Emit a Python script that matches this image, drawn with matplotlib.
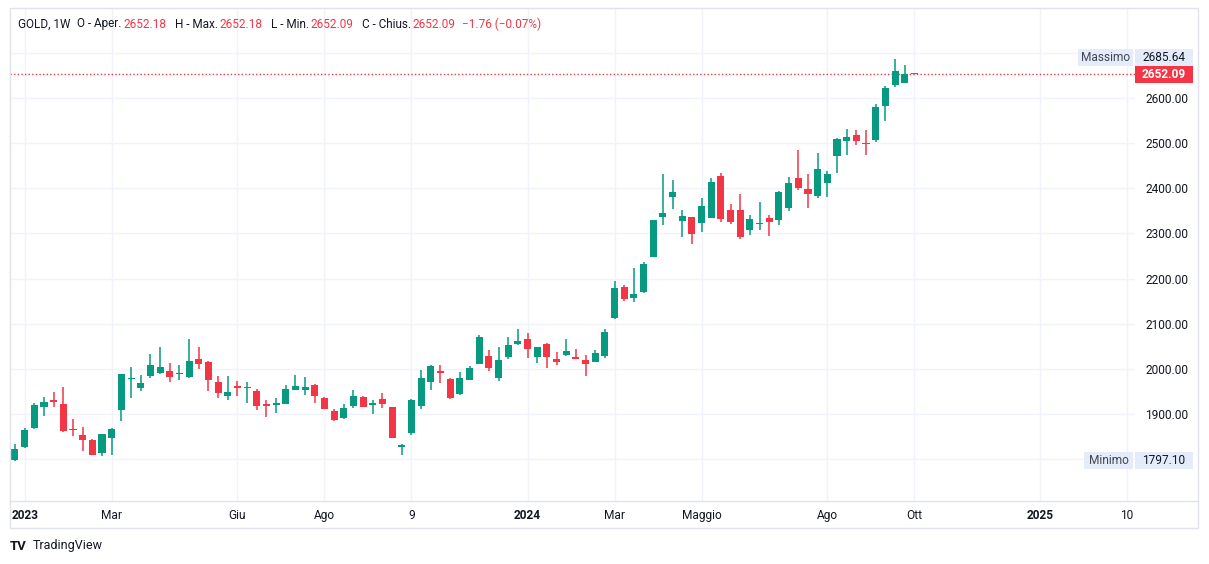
import matplotlib
matplotlib.use('Agg')
import matplotlib.dates as mdates
import matplotlib.pyplot as plt
import pandas as pd
from matplotlib.lines import Line2D
from matplotlib.patches import Rectangle

# weekly candles GOLD, 1W, first bar = week of 2022-12-26
FIRST_WEEK = '2022-12-26'
OPEN = [1799.5, 1826.6, 1870.0, 1915.0, 1932.0, 1923.0, 1868.0, 1854.6, 1843.5, 1815.0,
        1846.5, 1910.0, 1977.0, 1957.0, 1984.0, 1990.4, 1995.6, 1988.0, 1981.6, 2022.9,
        2016.0, 1972.0, 1941.0, 1963.0, 1957.0, 1952.0, 1923.0, 1921.0, 1923.0, 1954.0,
        1954.0, 1965.0, 1936.5, 1908.0, 1892.3, 1919.0, 1938.8, 1921.0, 1934.0, 1916.6,
        1828.0, 1859.0, 1919.0, 1972.0, 1996.0, 1978.6, 1945.4, 1976.4, 2011.8, 2029.5,
        1980.8, 2027.3, 2056.0, 2067.0, 2027.3, 2056.0, 2022.9, 2031.7, 2025.0, 2020.5,
        2016.2, 2029.5, 2113.7, 2181.6, 2158.0, 2171.0, 2248.7, 2337.3, 2381.6, 2328.4,
        2336.5, 2324.0, 2335.0, 2427.3, 2352.0, 2352.0, 2308.5, 2320.6, 2334.3, 2330.6,
        2357.0, 2423.6, 2399.0, 2382.0, 2411.0, 2471.0, 2504.0, 2518.8, 2501.0, 2506.0,
        2581.5, 2628.0, 2632.5, 2652.18]
HIGH = [1834.7, 1869.4, 1924.0, 1938.7, 1950.0, 1961.0, 1890.0, 1872.0, 1845.6, 1857.0,
        1869.4, 1989.7, 2005.0, 1987.0, 2034.0, 2049.4, 2014.0, 2009.6, 2067.0, 2049.0,
        2018.5, 1985.0, 1985.0, 1974.0, 1972.0, 1956.5, 1932.0, 1936.5, 1965.0, 1987.5,
        1983.0, 1967.5, 1938.8, 1912.0, 1923.0, 1954.0, 1940.0, 1932.0, 1947.6, 1917.0,
        1834.7, 1934.3, 1998.5, 2009.6, 2009.6, 1979.0, 1994.0, 2007.4, 2076.0, 2042.8,
        2049.4, 2071.6, 2089.3, 2080.4, 2049.5, 2056.5, 2038.4, 2067.0, 2045.0, 2032.0,
        2042.5, 2089.0, 2195.0, 2186.0, 2223.6, 2237.0, 2330.5, 2431.7, 2418.4, 2352.0,
        2337.0, 2378.6, 2423.0, 2434.0, 2365.3, 2387.5, 2341.0, 2370.0, 2341.0, 2394.0,
        2425.0, 2485.6, 2432.5, 2479.0, 2439.0, 2510.5, 2532.0, 2530.0, 2530.0, 2587.5,
        2627.3, 2685.64, 2674.0, 2652.18]
LOW = [1797.1, 1825.0, 1868.0, 1896.7, 1916.6, 1861.0, 1852.4, 1819.0, 1809.0, 1806.7,
       1810.0, 1886.0, 1935.0, 1951.0, 1979.0, 1990.0, 1971.0, 1975.0, 1979.3, 2000.7,
       1952.0, 1936.5, 1932.0, 1941.0, 1925.5, 1910.0, 1894.5, 1903.0, 1922.0, 1953.0,
       1943.0, 1925.5, 1911.0, 1885.6, 1890.0, 1914.4, 1915.0, 1901.0, 1914.4, 1847.0,
       1810.0, 1854.6, 1912.0, 1954.3, 1970.0, 1934.3, 1943.0, 1976.0, 2011.0, 1996.3,
       1974.0, 2022.9, 2053.9, 2025.0, 2014.0, 2003.0, 2009.6, 2029.5, 2022.0, 1985.0,
       2016.0, 2025.0, 2111.5, 2151.3, 2149.0, 2169.0, 2248.0, 2319.6, 2355.0, 2293.0,
       2277.5, 2304.0, 2334.0, 2326.0, 2321.8, 2288.6, 2297.4, 2308.5, 2295.0, 2319.6,
       2350.6, 2395.6, 2355.7, 2378.0, 2380.0, 2433.0, 2473.0, 2495.0, 2473.0, 2502.0,
       2548.3, 2623.6, 2632.5, 2652.09]
CLOSE = [1824.0, 1865.7, 1921.0, 1927.7, 1926.0, 1863.5, 1864.0, 1842.0, 1810.0, 1857.0,
         1868.0, 1989.7, 1979.0, 1970.0, 2009.6, 2005.0, 1981.6, 1990.0, 2018.4, 2010.0,
         1976.0, 1946.0, 1950.0, 1958.7, 1959.0, 1919.0, 1919.0, 1925.5, 1956.5, 1963.0,
         1961.0, 1941.0, 1912.0, 1888.0, 1914.4, 1941.0, 1916.6, 1925.5, 1923.0, 1848.0,
         1832.5, 1932.0, 1981.0, 2007.4, 1992.0, 1936.5, 1981.0, 2003.0, 2071.6, 2003.0,
         2020.7, 2053.9, 2062.7, 2045.0, 2049.4, 2027.3, 2016.2, 2040.6, 2023.0, 2012.0,
         2035.8, 2082.3, 2179.4, 2155.8, 2166.0, 2232.5, 2330.0, 2345.4, 2392.0, 2338.8,
         2299.6, 2361.0, 2414.0, 2333.0, 2326.0, 2293.0, 2332.0, 2321.6, 2326.0, 2392.0,
         2411.8, 2400.0, 2386.7, 2443.5, 2432.5, 2510.0, 2514.4, 2504.0, 2497.4, 2581.0,
         2623.0, 2660.5, 2653.85, 2652.09]

TICK_DATES = ['2023-01-02', '2023-03-06', '2023-06-05', '2023-08-07', '2023-10-09', '2024-01-01',
              '2024-03-04', '2024-05-06', '2024-08-05', '2024-10-07', '2025-01-06', '2025-03-10']
TICK_LABELS = ['2023', 'Mar', 'Giu', 'Ago', '9', '2024', 'Mar', 'Maggio', 'Ago', 'Ott', '2025', '10']
GRID_PRICES = [1800, 1900, 2000, 2100, 2200, 2300, 2400, 2500, 2600, 2700]
# 1800 sits behind the "Minimo" label, so it has no visible price text
PRICE_LABELS = ['', '1900.00', '2000.00', '2100.00', '2200.00', '2300.00', '2400.00',
                '2500.00', '2600.00', '2700.00']

UP = '#089981'
DOWN = '#f23645'
TEXT = '#131722'
GRID = '#f0f3fa'
BORDER = '#e0e3eb'
LABEL_BG = '#e3ecf8'

W, H = 1209, 564

plt.rcParams['font.family'] = ['Roboto', 'DejaVu Sans']
plt.rcParams['font.size'] = 8.6

fig = plt.figure(figsize=(W / 100, H / 100), dpi=100)
fig.patch.set_facecolor('white')


def box(left, top, right, bottom):
    return [left / W, 1 - bottom / H, (right - left) / W, (bottom - top) / H]


def fig_rect(left, top, right, bottom, color, z=10, fill=True):
    r = Rectangle((left / W, 1 - bottom / H), (right - left) / W, (bottom - top) / H,
                  transform=fig.transFigure, facecolor=color if fill else 'none',
                  edgecolor='none' if fill else color, linewidth=1, zorder=z)
    fig.add_artist(r)


def fig_text(x, y, s, **kw):
    return fig.text(x / W, 1 - y / H, s, va='center', **kw)


ax = fig.add_axes(box(10, 8, 1135, 501))
ax.set_facecolor('white')

dates = pd.date_range(FIRST_WEEK, periods=len(OPEN), freq='7D')
x = mdates.date2num(dates)

colors = [UP if c >= o else DOWN for o, c in zip(OPEN, CLOSE)]
bottoms = [min(o, c) for o, c in zip(OPEN, CLOSE)]
heights = [max(abs(c - o), 2.8) for o, c in zip(OPEN, CLOSE)]

ax.vlines(x, LOW, HIGH, colors=colors, linewidth=1.1, zorder=3)
ax.bar(x, heights, bottom=bottoms, width=5.1, color=colors, linewidth=0, zorder=4)

ax.set_xlim(x[0] - 3.6, x[0] + 810.7)
ax.set_ylim(1707.8, 2799.2)

ax.axhline(CLOSE[-1], color=DOWN, linestyle=(0, (1, 1.6)), linewidth=1, zorder=2)

# axes
ax.set_xticks(mdates.date2num(pd.to_datetime(TICK_DATES)), labels=TICK_LABELS)
for lbl in ax.get_xticklabels():
    if len(lbl.get_text()) == 4:
        lbl.set_fontweight('bold')
ax.yaxis.tick_right()
ax.set_yticks(GRID_PRICES, labels=PRICE_LABELS)
ax.tick_params(axis='x', length=0, pad=6, colors=TEXT, labelsize=8.6)
ax.tick_params(axis='y', length=0, pad=7.5, colors=TEXT, labelsize=8.6)
ax.grid(True, color=GRID, linewidth=1, zorder=0)
ax.set_axisbelow(True)
for s in ax.spines.values():
    s.set_visible(False)

# frame and time-axis separator
fig_rect(10, 8, 1198, 528, BORDER, z=1, fill=False)
fig.add_artist(Line2D([10 / W, 1198 / W], [1 - 501 / H, 1 - 501 / H], transform=fig.transFigure,
                      color=BORDER, linewidth=1))


def price_y(v):
    return H - ax.transData.transform((x[0], v))[1]


# price scale labels
y_last = price_y(CLOSE[-1])
fig_rect(1135, y_last - 8.5, 1193, y_last + 8.5, DOWN, z=11)
fig_text(1164, y_last, f'{CLOSE[-1]:.2f}', ha='center', color='white', fontweight='bold', zorder=12)

y_max = min(price_y(max(HIGH)), y_last - 17)
fig_rect(1078, y_max - 8.5, 1133, y_max + 8.5, LABEL_BG, z=11)
fig_rect(1135, y_max - 8.5, 1193, y_max + 8.5, LABEL_BG, z=11)
fig_text(1105.5, y_max, 'Massimo', ha='center', color='#434651', zorder=12)
fig_text(1164, y_max, f'{max(HIGH):.2f}', ha='center', color=TEXT, zorder=12)

# the 2700 price text only peeks out above the Massimo label
top_lbl = ax.get_yticklabels()[-1]
clip = Rectangle((1135 / W, 1 - (y_max - 8.5) / H), 60 / W, 10 / H, transform=fig.transFigure)
top_lbl.set_clip_path(clip)

y_min = price_y(min(LOW))
fig_rect(1084, y_min - 8.5, 1133, y_min + 8.5, LABEL_BG, z=11)
fig_rect(1135, y_min - 8.5, 1193, y_min + 8.5, LABEL_BG, z=11)
fig_text(1108.5, y_min, 'Minimo', ha='center', color='#434651', zorder=12)
fig_text(1164, y_min, f'{min(LOW):.2f}', ha='center', color=TEXT, zorder=12)

# header, pieces placed one after another
chg = CLOSE[-1] - CLOSE[-2]
pct = chg / CLOSE[-2] * 100
header = [
    ('GOLD, 1W', TEXT, 7),
    ('O - Aper.', TEXT, 1.5), (f'{OPEN[-1]:.2f}', DOWN, 8.5),
    ('H - Max.', TEXT, 1.5), (f'{HIGH[-1]:.2f}', DOWN, 8.5),
    ('L - Min.', TEXT, 1.5), (f'{LOW[-1]:.2f}', DOWN, 8.5),
    ('C - Chius.', TEXT, 1.5), (f'{CLOSE[-1]:.2f}', DOWN, 7),
    (f'{chg:.2f} ({pct:.2f}%)'.replace('-', '\u2212'), DOWN, 0),
]
renderer = fig.canvas.get_renderer()
hx = 18
for s, c, gap in header:
    t = fig_text(hx, 24, s, ha='left', color=c, fontsize=8.5, zorder=12)
    hx += t.get_window_extent(renderer).width + gap

# logo
fig_text(10, 546, 'TV', ha='left', color=TEXT, fontsize=9.5, fontweight='bold')
fig_text(33, 546, 'TradingView', ha='left', color=TEXT, fontsize=9)

fig.savefig('out.png', dpi=100, facecolor='white')
